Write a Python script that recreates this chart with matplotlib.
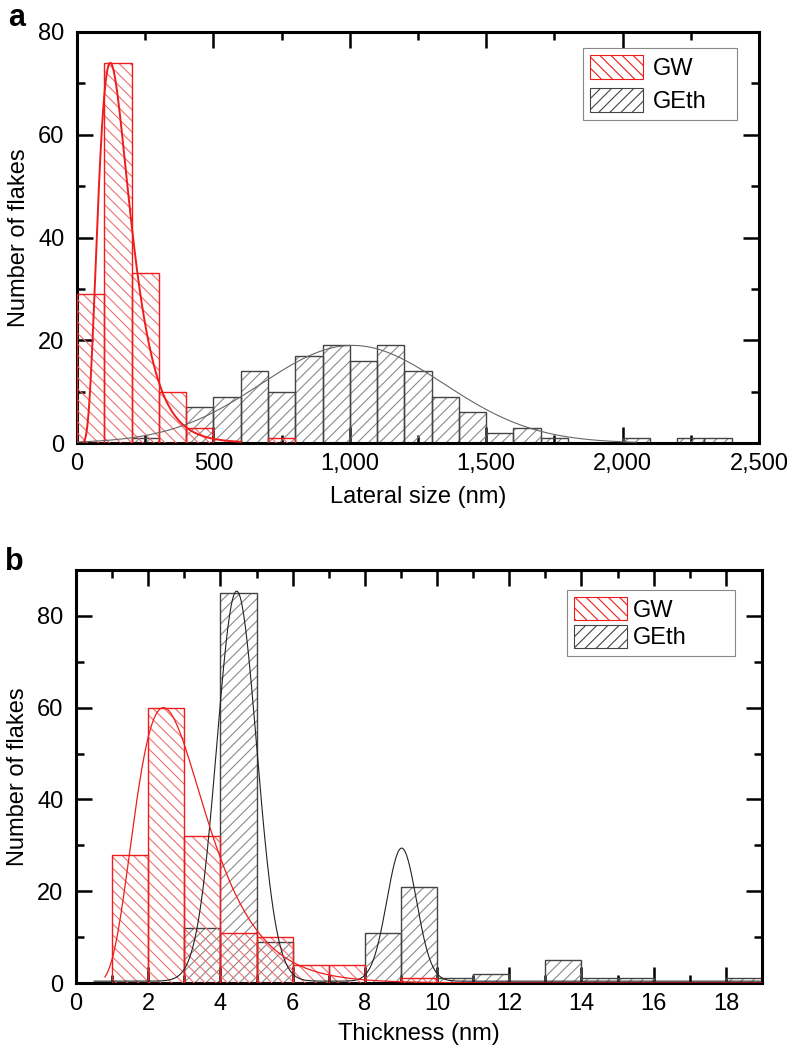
import numpy as np
import matplotlib

matplotlib.use("Agg")
import matplotlib.pyplot as plt
from matplotlib.patches import Patch
from matplotlib.ticker import MultipleLocator, FuncFormatter

plt.rcParams.update(
    {
        "font.family": ["Liberation Sans", "DejaVu Sans"],
        "font.size": 17,
        "hatch.linewidth": 0.8,
    }
)

# panel a: lateral size histogram (left bin edges, bins of 100 nm)
size_edges = np.arange(0, 2400, 100)
size_gw = [29, 74, 33, 10, 3, 0, 0, 1, 0, 0, 0, 0, 0, 0, 0, 0, 0, 0, 0, 0, 0, 0, 0, 0]
size_geth = [0, 0, 1, 0, 7, 9, 14, 10, 17, 19, 16, 19, 14, 9, 6, 2, 3, 1, 0, 0, 1, 0, 1, 1]
# fit parameters
size_gw_fit = {"amp": 74, "xc": 122, "w": 0.47}
size_geth_fit = {"amp": 19, "xc": 1010, "sigma": 335}

# panel b: thickness histogram (left bin edges, bins of 1 nm)
thick_edges = np.arange(0, 19, 1)
thick_gw = [0, 28, 60, 32, 11, 10, 4, 4, 0, 1, 0, 0, 0, 0, 0, 0, 0, 0, 0]
thick_geth = [0, 0, 0, 12, 85, 9, 0, 0, 11, 21, 1, 2, 0, 5, 1, 1, 0, 0, 1]
thick_gw_fit = {"amp": 60, "xc": 2.42, "w": 0.40}
thick_geth_fit = [
    {"amp": 85, "xc": 4.45, "sigma": 0.55},
    {"amp": 29, "xc": 9.02, "sigma": 0.41},
]
thick_geth_base = 0.4

RED = "#f01c1c"
RED_HATCH = "#f07070"
GREY_EDGE = "#444444"
GREY_HATCH = "#8a8a8a"


def lognorm(x, p):
  return p["amp"] * np.exp(-np.log(x / p["xc"]) ** 2 / (2 * p["w"] ** 2))


def gauss(x, p):
  return p["amp"] * np.exp(-((x - p["xc"]) ** 2) / (2 * p["sigma"] ** 2))


def hist(ax, edges, counts, width, hatch, hcolor, ecolor, lw, z):
  edges = np.asarray(edges)
  counts = np.asarray(counts)
  keep = counts > 0
  ax.bar(edges[keep], counts[keep], width=width, align="edge", fill=False,
         hatch=hatch, edgecolor=hcolor, linewidth=0, zorder=z)
  ax.bar(edges[keep], counts[keep], width=width, align="edge", fill=False,
         edgecolor=ecolor, linewidth=lw, zorder=z + 0.1)


def style(ax, xmaj, xmin, ymaj, ymin):
  for s in ax.spines.values():
    s.set_linewidth(2.2)
  ax.xaxis.set_major_locator(MultipleLocator(xmaj))
  ax.xaxis.set_minor_locator(MultipleLocator(xmin))
  ax.yaxis.set_major_locator(MultipleLocator(ymaj))
  ax.yaxis.set_minor_locator(MultipleLocator(ymin))
  ax.tick_params(which="both", direction="in", top=True, right=True, width=1.8)
  ax.tick_params(which="major", length=11.5, labelsize=17)
  ax.tick_params(axis="x", which="major", pad=7)
  ax.tick_params(axis="y", which="major", pad=9)
  ax.tick_params(which="minor", length=6)


def legend(ax, box, spacing, textpad):
  handles = [
      Patch(facecolor="none", edgecolor=RED, hatch="\\\\\\", linewidth=0.8),
      Patch(facecolor="none", edgecolor=GREY_EDGE, hatch="///", linewidth=0.8),
  ]
  leg = ax.legend(handles, ["GW", "GEth"], loc="upper left", bbox_to_anchor=box,
                  mode="expand", fancybox=False, framealpha=1, edgecolor="#888888",
                  handlelength=2.25, handleheight=1.15, handletextpad=textpad,
                  labelspacing=spacing, borderpad=0.3, borderaxespad=0,
                  fontsize=17)
  leg.get_frame().set_linewidth(0.8)
  leg.set_zorder(10)


fig = plt.figure(figsize=(7.88, 10.52), dpi=100)

# ---- panel a
ax = fig.add_axes([77 / 788, 1 - 443 / 1052, 682 / 788, 411 / 1052])
hist(ax, size_edges, size_geth, 100, "///", GREY_HATCH, GREY_EDGE, 1.0, 2)
hist(ax, size_edges, size_gw, 100, "\\\\\\", RED_HATCH, RED, 1.0, 3)
xs = np.linspace(0, 2050, 600)
ax.plot(xs, gauss(xs, size_geth_fit), color="#666666", linewidth=0.8, zorder=4)
xr = np.linspace(25, 600, 400)
ax.plot(xr, lognorm(xr, size_gw_fit), color=RED, linewidth=1.4, zorder=5)
ax.set_xlim(0, 2500)
ax.set_ylim(0, 80)
style(ax, 500, 250, 20, 10)
ax.xaxis.set_major_formatter(FuncFormatter(lambda v, _: f"{int(v):,}"))
ax.set_xlabel("Lateral size (nm)", labelpad=8)
ax.set_ylabel("Number of flakes", labelpad=6)
legend(ax, (0.742, 0.961, 0.226, 0), 0.35, 0.4)
fig.text(8 / 788, 1 - 26 / 1052, "a", fontsize=22, fontweight="bold")

# ---- panel b
ax = fig.add_axes([76 / 788, 1 - 983 / 1052, 686 / 788, 413 / 1052])
hist(ax, thick_edges, thick_geth, 1, "///", GREY_HATCH, GREY_EDGE, 1.0, 2)
hist(ax, thick_edges, thick_gw, 1, "\\\\\\", RED_HATCH, RED, 1.0, 3)
xt = np.linspace(0.5, 19, 800)
geth_curve = thick_geth_base + sum(gauss(xt, p) for p in thick_geth_fit)
ax.plot(xt, geth_curve, color="#222222", linewidth=0.8, zorder=4)
xg = np.linspace(0.8, 19, 800)
ax.plot(xg, lognorm(xg, thick_gw_fit), color=RED, linewidth=0.9, zorder=5)
ax.set_xlim(0, 19)
ax.set_ylim(0, 90)
style(ax, 2, 1, 20, 10)
ax.set_xlabel("Thickness (nm)", labelpad=6)
ax.set_ylabel("Number of flakes", labelpad=6)
legend(ax, (0.716, 0.952, 0.245, 0), 0.13, 0.25)
fig.text(5 / 788, 1 - 570 / 1052, "b", fontsize=22, fontweight="bold")

fig.savefig("out.png", dpi=100)
